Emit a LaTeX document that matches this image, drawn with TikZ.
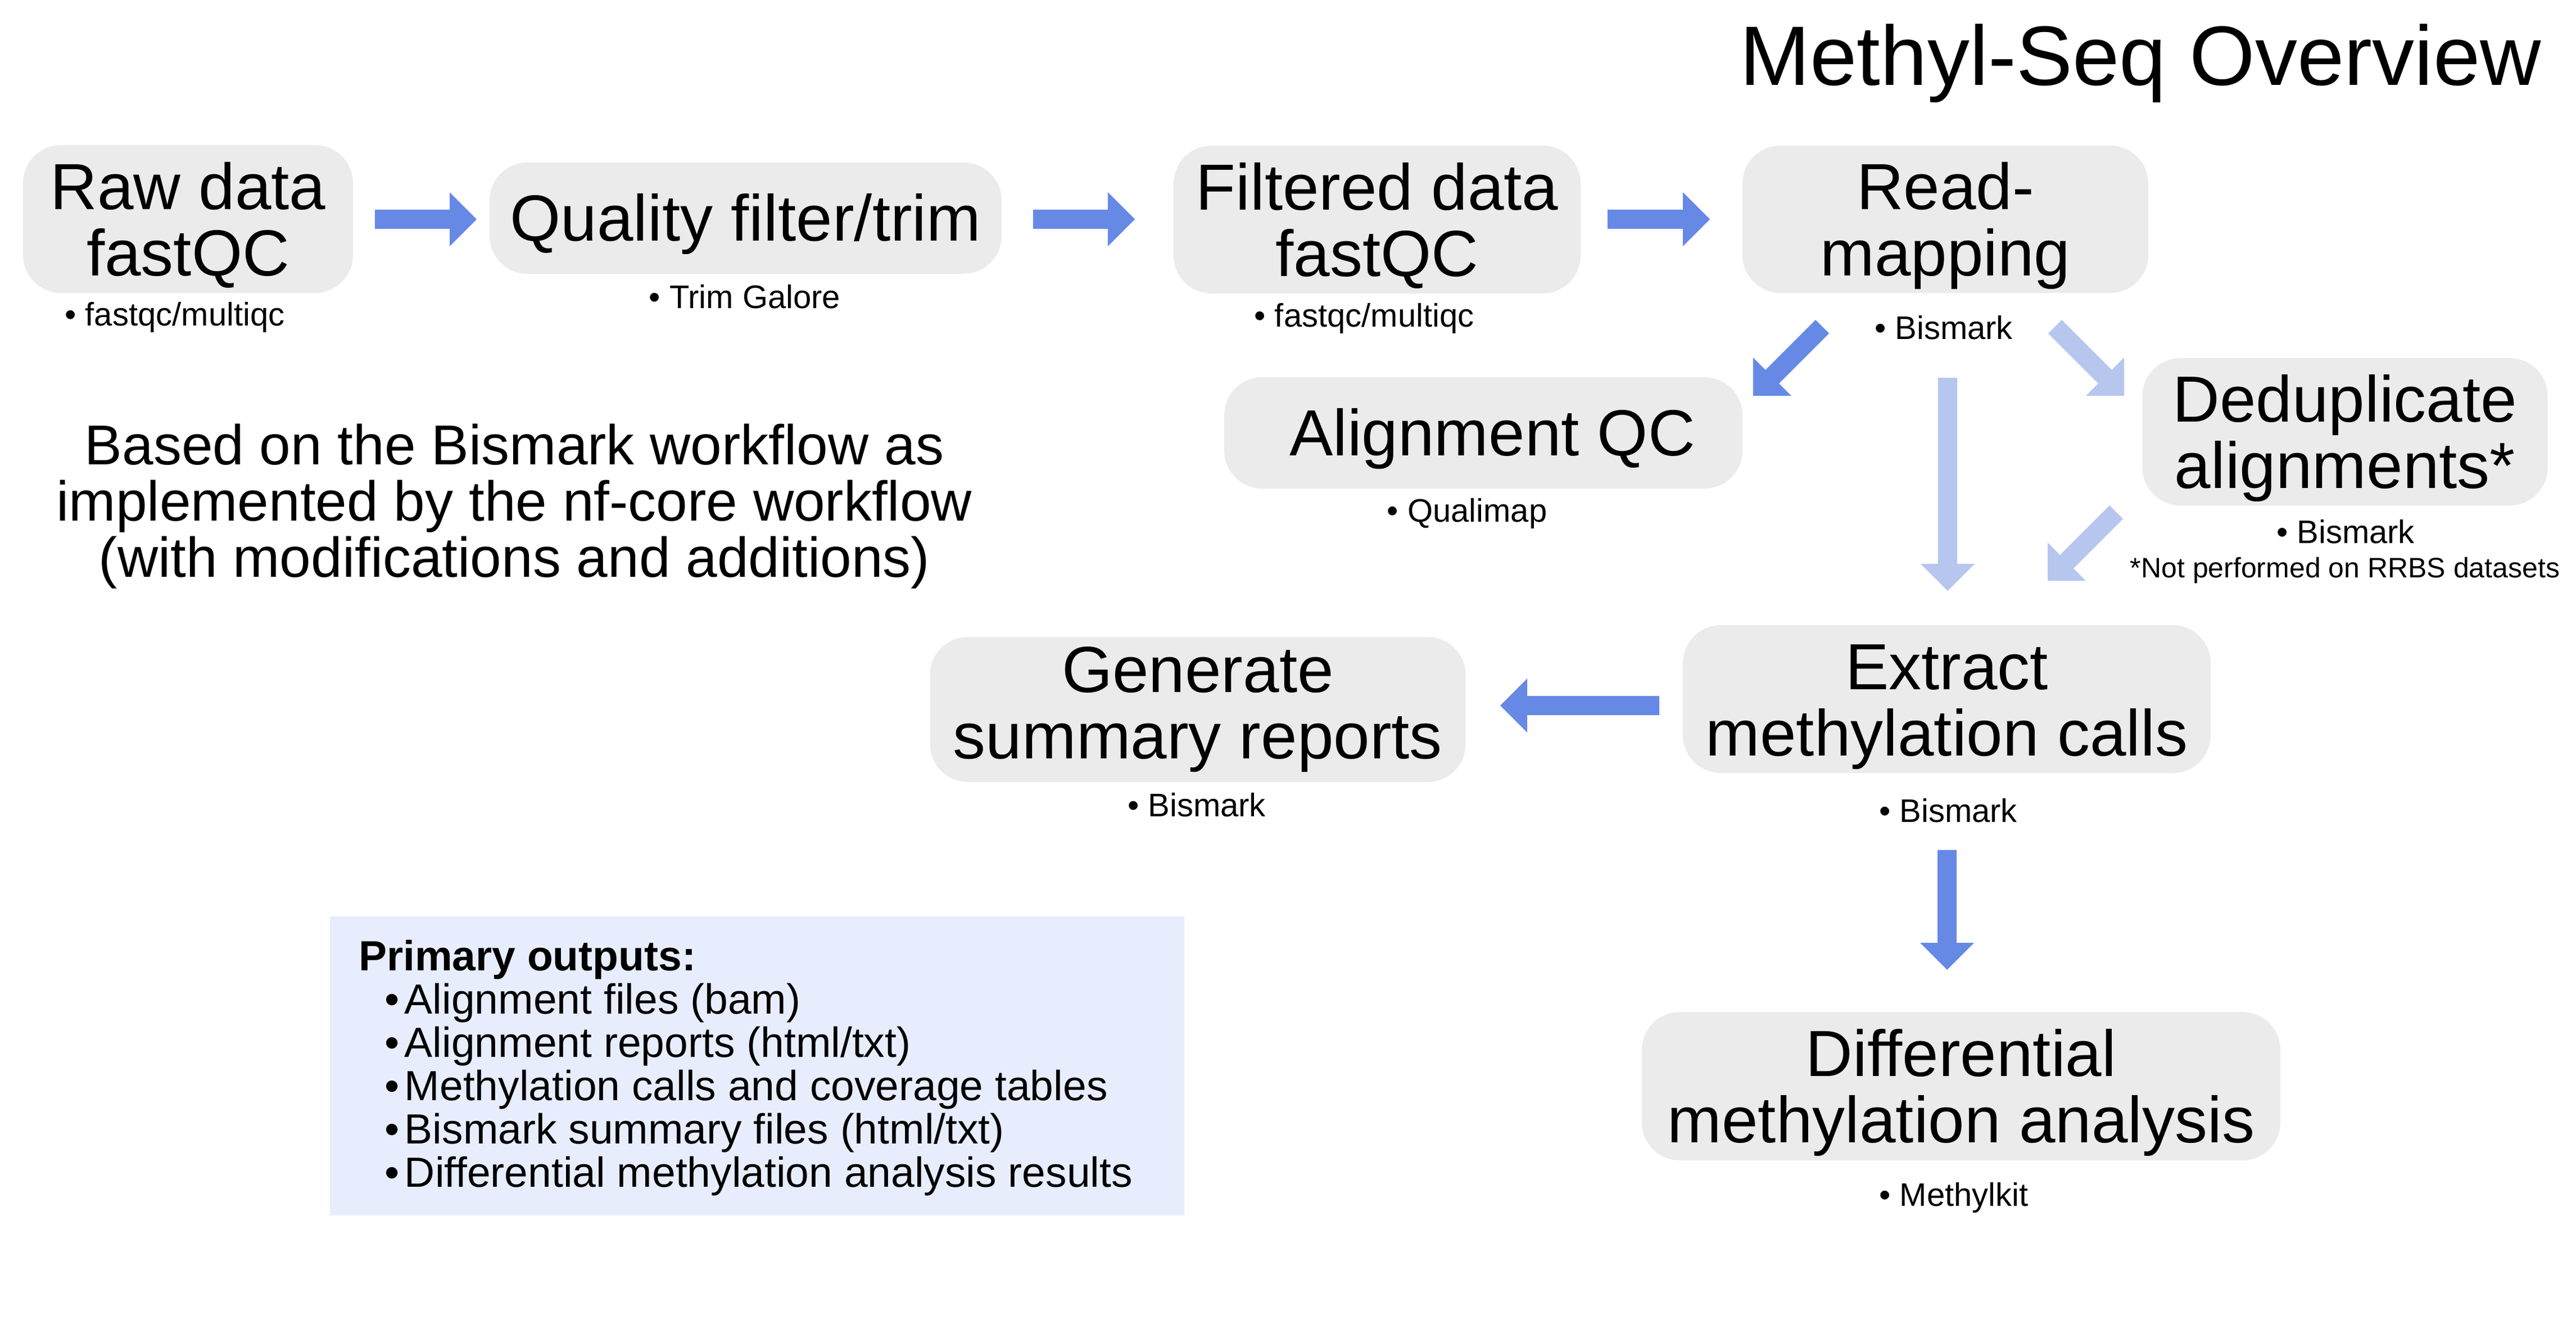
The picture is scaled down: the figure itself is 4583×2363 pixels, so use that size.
\documentclass[tikz,border=0pt]{standalone}
\usepackage{fontspec}
\setmainfont{Liberation Sans}
\usetikzlibrary{calc}
\definecolor{boxgrey}{HTML}{EBEBEB}
\definecolor{arrdark}{HTML}{6689E6}
\definecolor{arrlight}{HTML}{B7C6EE}
\definecolor{outbg}{HTML}{E8EDFD}
\newcommand\blockarr[3]{%
  \coordinate (bah) at ($(#2)!9.6pt!(#1)$);
  \fill[#3] ($(#1)!3.4pt!90:(#2)$) -- ($(bah)!3.4pt!90:(#2)$) -- ($(bah)!9.6pt!90:(#2)$) -- (#2)
     -- ($(bah)!9.6pt!-90:(#2)$) -- ($(bah)!3.4pt!-90:(#2)$) -- ($(#1)!3.4pt!-90:(#2)$) -- cycle;}
\newcommand\topst{\rule{0pt}{21.6pt}}
\newcommand\botst{\rule[-5pt]{0pt}{5pt}}
\newcommand\onest{\rule[-5pt]{0pt}{26pt}}
\tikzset{
  stage/.style={rounded corners=13.5pt, fill=boxgrey, align=center, inner sep=0pt,
    font=\fontsize{23.2}{23.6}\selectfont},
  tool/.style={font=\fontsize{11.6}{13}\selectfont, anchor=base, inner sep=0pt},
}
\begin{document}
\begin{tikzpicture}[x=0.2pt, y=-0.2pt]
\useasboundingbox (0,0) rectangle (4583,2363);
% title
\node[font=\fontsize{30}{36}\selectfont, anchor=base east, inner sep=0pt] (title) at (4522,151) {Methyl-Seq Overview};
% stages
\node[stage, minimum width=117.4pt, minimum height=52.6pt] (raw) at (334.5,389.5) {\topst Raw data\\fastQC\botst};
\node[stage, minimum width=182.2pt, minimum height=39.6pt] (quality) at (1326.5,388) {\onest Quality filter/trim};
\node[stage, minimum width=144.8pt, minimum height=52.6pt] (filtered) at (2450,390.5) {\topst Filtered data\\fastQC\botst};
\node[stage, minimum width=144.4pt, minimum height=52.4pt] (readmap) at (3461,390) {\topst Read-\\mapping\botst};
\node[stage, minimum width=184.4pt, minimum height=39.6pt] (alignqc) at (2639,770) {\onest\ Alignment QC};
\node[stage, minimum width=144.2pt, minimum height=52.4pt] (dedup) at (4172,768) {\topst Deduplicate\\alignments*\botst};
\node[stage, minimum width=190.6pt, minimum height=51.6pt] (generate) at (2131,1262) {Generate\\summary reports};
\node[stage, minimum width=187.8pt, minimum height=52.6pt] (extract) at (3463.5,1243.5) {\topst Extract\\methylation calls\botst};
\node[stage, minimum width=227.2pt, minimum height=52.8pt] (diffmeth) at (3489,1932) {\topst Differential\\methylation analysis\botst};
% tool labels
\node[tool] (lraw) at (311,579) {• fastqc/multiqc};
\node[tool] (lquality) at (1325,548) {• Trim Galore};
\node[tool] (lfiltered) at (2427,581) {• fastqc/multiqc};
\node[tool] (lreadmap) at (3458,603) {• Bismark};
\node[tool] (lalignqc) at (2610,928) {• Qualimap};
\node[tool] (ldedup) at (4173,966) {• Bismark};
\node[font=\fontsize{10}{12}\selectfont, anchor=base, inner sep=0pt] (lnote) at (4172,1027) {*Not performed on RRBS datasets};
\node[tool] (lgenerate) at (2129,1452) {• Bismark};
\node[tool] (lextract) at (3466,1462) {• Bismark};
\node[tool] (ldiffmeth) at (3476,2145) {• Methylkit};
% note text
\node[font=\fontsize{20}{20}\selectfont, align=center, inner sep=0pt] (based) at (915,901)
  {Based on the Bismark workflow as\\implemented by the nf-core workflow\\(with modifications and additions)};
% primary outputs
\node[fill=outbg, minimum width=304pt, minimum height=106.4pt, inner sep=0pt] (primary) at (1347,1896) {};
\node[anchor=north west, align=left, inner sep=0pt, font=\fontsize{15}{15.4}\selectfont] (primarytext) at (637,1671)
  {\textbf{Primary outputs:}\\
   \hspace*{9.2pt}\makebox[7.2pt][l]{•}Alignment files (bam)\\
   \hspace*{9.2pt}\makebox[7.2pt][l]{•}Alignment reports (html/txt)\\
   \hspace*{9.2pt}\makebox[7.2pt][l]{•}Methylation calls and coverage tables\\
   \hspace*{9.2pt}\makebox[7.2pt][l]{•}Bismark summary files (html/txt)\\
   \hspace*{9.2pt}\makebox[7.2pt][l]{•}Differential methylation analysis results};
% arrow end points
\coordinate (a1s) at (667,390);   \coordinate (a1e) at (848,390);
\coordinate (a2s) at (1838,390);  \coordinate (a2e) at (2019,390);
\coordinate (a3s) at (2860,390);  \coordinate (a3e) at (3042,390);
\coordinate (a4s) at (3242,581);  \coordinate (a4e) at (3119,704);
\coordinate (a5s) at (3656,581);  \coordinate (a5e) at (3779,704);
\coordinate (a6s) at (3465,672);  \coordinate (a6e) at (3465,1051);
\coordinate (a7s) at (3765,911);  \coordinate (a7e) at (3643,1033);
\coordinate (a8s) at (2952,1255); \coordinate (a8e) at (2669,1255);
\coordinate (a9s) at (3464,1512); \coordinate (a9e) at (3464,1725);
\blockarr{a1s}{a1e}{arrdark}
\blockarr{a2s}{a2e}{arrdark}
\blockarr{a3s}{a3e}{arrdark}
\blockarr{a4s}{a4e}{arrdark}
\blockarr{a5s}{a5e}{arrlight}
\blockarr{a6s}{a6e}{arrlight}
\blockarr{a7s}{a7e}{arrlight}
\blockarr{a8s}{a8e}{arrdark}
\blockarr{a9s}{a9e}{arrdark}
\end{tikzpicture}
\end{document}
